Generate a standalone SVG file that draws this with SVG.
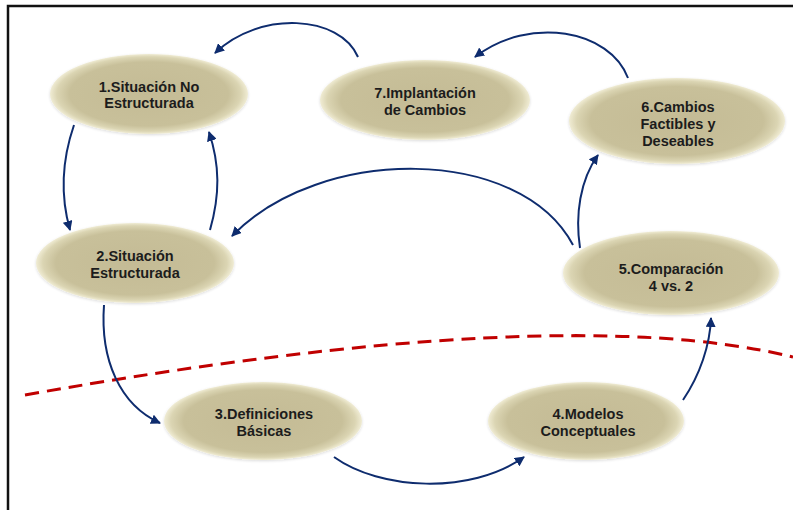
<svg xmlns="http://www.w3.org/2000/svg" width="793" height="510" viewBox="0 0 793 510">
  <defs>
    <radialGradient id="bevel" cx="0.5" cy="0.5" r="0.5">
      <stop offset="0" stop-color="#C4BB95"/>
      <stop offset="0.8" stop-color="#C8C09A"/>
      <stop offset="0.93" stop-color="#DBD5B3"/>
      <stop offset="1" stop-color="#F0ECD4"/>
    </radialGradient>
    <filter id="soft" x="-10%" y="-20%" width="120%" height="140%">
      <feGaussianBlur in="SourceAlpha" stdDeviation="1.5"/>
      <feOffset dx="0" dy="1" result="b"/>
      <feComponentTransfer><feFuncA type="linear" slope="0.15"/></feComponentTransfer>
      <feMerge><feMergeNode/><feMergeNode in="SourceGraphic"/></feMerge>
    </filter>
    <marker id="arrow" viewBox="0 0 10 10" refX="9" refY="5" markerWidth="5" markerHeight="5" orient="auto" markerUnits="strokeWidth">
      <path d="M0,0 L10,5 L0,10 z" fill="#0E2C6E"/>
    </marker>
  </defs>
  <style>
    .node ellipse { fill: url(#bevel); filter: url(#soft); }
    .node text { font-family: "Liberation Sans", Arial, sans-serif; font-weight: bold; font-size: 14.5px; fill: #1C1C1C; text-anchor: middle; }
    .link { fill: none; stroke: #0E2C6E; stroke-width: 2; marker-end: url(#arrow); }
    .frame { stroke: #111; stroke-width: 2.5; fill: none; }
    .divide { fill: none; stroke: #C00000; stroke-width: 3; stroke-dasharray: 14 8; }
  </style>

  <rect width="793" height="510" fill="#FFFFFF"/>
  <!-- frame: top and left edges -->
  <path class="frame" d="M8,510 L8,6 L793,6"/>

  <!-- dividing line -->
  <path class="divide" d="M25,395 Q560,300 793,357"/>

  <g id="connectors">
    <path class="link" d="M358,57 C340,15 260,10 215,53"/>
    <path class="link" d="M628,78 C610,30 530,15 475,57"/>
    <path class="link" d="M74,125 C62,160 60,195 70,230"/>
    <path class="link" d="M210,230 C220,195 220,165 209,132"/>
    <path class="link" d="M573,245 C520,145 320,145 232,236"/>
    <path class="link" d="M580,248 C575,215 580,180 598,155"/>
    <path class="link" d="M104,305 C100,360 120,405 160,423"/>
    <path class="link" d="M334,457 C380,490 470,495 524,457"/>
    <path class="link" d="M683,400 C700,375 710,345 711,318"/>
  </g>

  <g id="node1" class="node">
    <ellipse cx="149" cy="94" rx="99" ry="40"/>
    <text x="149" y="92">1.Situación No</text>
    <text x="149" y="108">Estructurada</text>
  </g>
  <g id="node2" class="node">
    <ellipse cx="135" cy="263" rx="99" ry="40"/>
    <text x="135" y="261">2.Situación</text>
    <text x="135" y="278">Estructurada</text>
  </g>
  <g id="node3" class="node">
    <ellipse cx="263" cy="421" rx="99" ry="39"/>
    <text x="264" y="419">3.Definiciones</text>
    <text x="264" y="436">Básicas</text>
  </g>
  <g id="node4" class="node">
    <ellipse cx="586" cy="421" rx="98" ry="39"/>
    <text x="588" y="419">4.Modelos</text>
    <text x="588" y="436">Conceptuales</text>
  </g>
  <g id="node5" class="node">
    <ellipse cx="671" cy="273" rx="108" ry="42"/>
    <text x="671" y="274">5.Comparación</text>
    <text x="671" y="291">4 vs. 2</text>
  </g>
  <g id="node6" class="node">
    <ellipse cx="677" cy="121" rx="108" ry="43"/>
    <text x="678" y="112">6.Cambios</text>
    <text x="678" y="129">Factibles y</text>
    <text x="678" y="146">Deseables</text>
  </g>
  <g id="node7" class="node">
    <ellipse cx="425" cy="100" rx="105" ry="40"/>
    <text x="425" y="98">7.Implantación</text>
    <text x="425" y="115">de Cambios</text>
  </g>
</svg>
